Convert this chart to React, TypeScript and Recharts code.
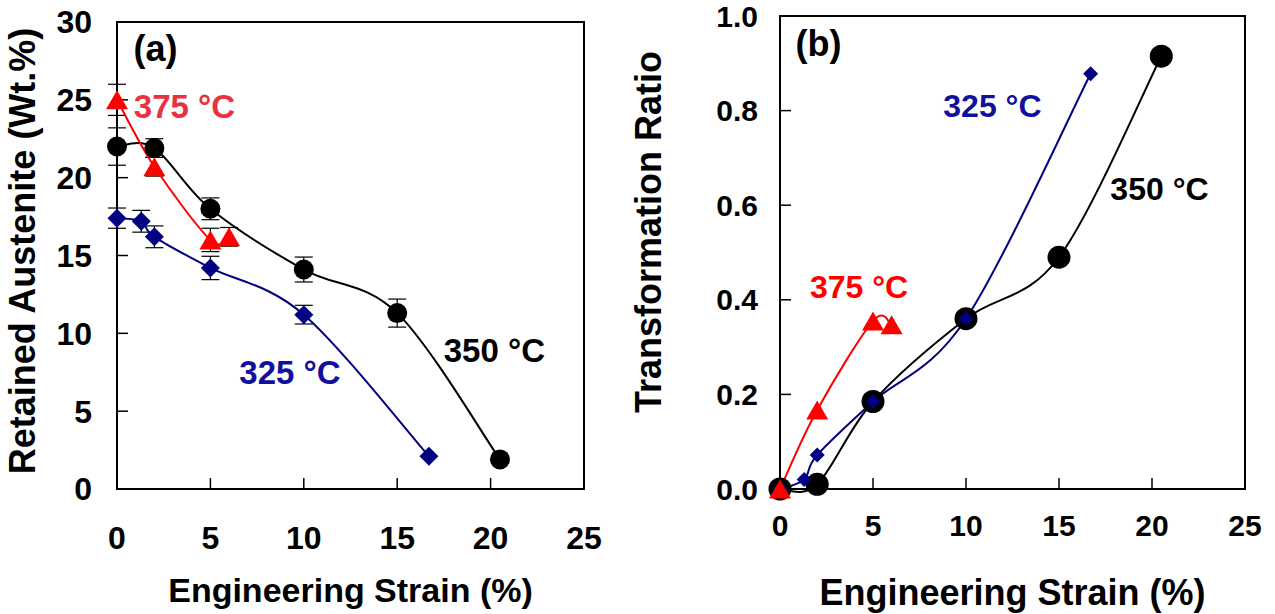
import React from 'react';
import { LineChart, Line, XAxis, YAxis, ErrorBar, ReferenceArea, ReferenceDot } from 'recharts';

// strain (%) for each temperature
const strain325 = [0, 1.3, 2, 5, 10, 16.7];
const strain350 = [0, 2, 5, 10, 15, 20.5];
const strain375 = [0, 2, 5, 6];

// (a) retained austenite, wt.%
const austenite325 = [17.4, 17.2, 16.2, 14.2, 11.2, 2.1];
const austenite350 = [22.0, 21.9, 18.0, 14.1, 11.3, 1.9];
const austenite375 = [25.0, 20.7, 16.0, 16.2];
const error325 = [0.65, 0.7, 0.7, 0.75, 0.6, 0];
const error350 = [1.2, 0.6, 0.7, 0.8, 0.9, 0];
const error375 = [1.0, 0.6, 0.75, 0.6];

// (b) transformation ratio
const ratio325 = [0, 0.02, 0.072, 0.185, 0.36, 0.878];
const ratio350 = [0, 0.01, 0.185, 0.36, 0.49, 0.915];
const ratio375 = [0, 0.167, 0.355, 0.347];

const strainTicks = [0, 5, 10, 15, 20, 25];
const austeniteTicks = [0, 5, 10, 15, 20, 25, 30];
const ratioTicks = [0, 0.2, 0.4, 0.6, 0.8, 1.0];

const FONT = '"Liberation Sans", Arial, sans-serif';
const RED = '#ff0000';
const NAVY = '#000080';

const rows = (xs: number[], ys: number[], errs?: number[]) =>
  xs.map((x, i) => ({ x, y: ys[i], err: errs ? errs[i] : 0 }));

// Excel-like smoothed line (Catmull-Rom through the points)
const smooth = (context: any) => {
  let pts: number[][] = [];
  return {
    areaStart() {},
    areaEnd() {},
    lineStart() {
      pts = [];
    },
    point(x: number, y: number) {
      pts.push([+x, +y]);
    },
    lineEnd() {
      const n = pts.length;
      if (!n) return;
      context.moveTo(pts[0][0], pts[0][1]);
      for (let i = 0; i < n - 1; i++) {
        const p0 = pts[Math.max(0, i - 1)];
        const p1 = pts[i];
        const p2 = pts[i + 1];
        const p3 = pts[Math.min(n - 1, i + 2)];
        context.bezierCurveTo(
          p1[0] + (p2[0] - p0[0]) / 6,
          p1[1] + (p2[1] - p0[1]) / 6,
          p2[0] - (p3[0] - p1[0]) / 6,
          p2[1] - (p3[1] - p1[1]) / 6,
          p2[0],
          p2[1]
        );
      }
    },
  };
};

const circleDot = (r: number) => (p: any) =>
  <circle key={`c${p.index}`} cx={p.cx} cy={p.cy} r={r} fill="#000" />;

const triangleDot = (w: number, h: number) => (p: any) => (
  <polygon
    key={`t${p.index}`}
    points={`${p.cx},${p.cy - h / 2} ${p.cx - w / 2},${p.cy + h / 2} ${p.cx + w / 2},${p.cy + h / 2}`}
    fill={RED}
  />
);

const diamondDot = (s: number) => (p: any) => (
  <polygon
    key={`d${p.index}`}
    points={`${p.cx},${p.cy - s / 2} ${p.cx + s / 2},${p.cy} ${p.cx},${p.cy + s / 2} ${p.cx - s / 2},${p.cy}`}
    fill={NAVY}
  />
);

const YTitle = ({ tx, ty, text }: any) => (
  <text
    x={tx}
    y={ty}
    transform={`rotate(-90 ${tx} ${ty})`}
    textAnchor="middle"
    fill="#000"
    fontSize={36}
    fontWeight="bold"
    fontFamily={FONT}
  >
    {text}
  </text>
);

const note = (value: string, fill: string, fontSize: number) => ({
  value,
  position: 'center' as const,
  fill,
  fontSize,
  fontWeight: 'bold',
  fontFamily: FONT,
});

const axisLine = { stroke: '#000', strokeWidth: 2 };
const tickLine = { stroke: '#000', strokeWidth: 1.5 };
const tickA = { fill: '#000', fontSize: 32, fontWeight: 'bold', fontFamily: FONT };
const tickB = { fill: '#000', fontSize: 30, fontWeight: 'bold', fontFamily: FONT };

const PanelA = () => (
  <LineChart width={620} height={614} margin={{ top: 22, right: 36, bottom: 0, left: 0 }}>
    <XAxis
      type="number"
      dataKey="x"
      domain={[0, 25]}
      ticks={strainTicks}
      interval={0}
      height={125}
      tickSize={-11}
      tickMargin={48}
      axisLine={axisLine}
      tickLine={tickLine}
      tick={tickA}
      label={{ value: 'Engineering Strain (%)', position: 'insideBottom', offset: 12, fill: '#000', fontSize: 34, fontWeight: 'bold', fontFamily: FONT }}
    />
    <YAxis
      type="number"
      domain={[0, 30]}
      ticks={austeniteTicks}
      interval={0}
      width={117}
      tickSize={-11}
      tickMargin={36}
      axisLine={axisLine}
      tickLine={tickLine}
      tick={tickA}
      label={<YTitle tx={35} ty={251} text="Retained Austenite (Wt.%)" />}
    />
    <ReferenceArea x1={0} x2={25} y1={0} y2={30} fill="none" stroke="#000" strokeWidth={2} />
    <Line data={rows(strain350, austenite350, error350)} dataKey="y" type={smooth as any} stroke="#000" strokeWidth={2} dot={circleDot(10)} activeDot={false} isAnimationActive={false}>
      <ErrorBar dataKey="err" direction="y" width={9} stroke="#000" strokeWidth={1.2} />
    </Line>
    <Line data={rows(strain375, austenite375, error375)} dataKey="y" type={smooth as any} stroke={RED} strokeWidth={2} dot={triangleDot(22, 19)} activeDot={false} isAnimationActive={false}>
      <ErrorBar dataKey="err" direction="y" width={9} stroke="#000" strokeWidth={1.2} />
    </Line>
    <Line data={rows(strain325, austenite325, error325)} dataKey="y" type={smooth as any} stroke={NAVY} strokeWidth={2} dot={diamondDot(19)} activeDot={false} isAnimationActive={false}>
      <ErrorBar dataKey="err" direction="y" width={9} stroke="#000" strokeWidth={1.2} />
    </Line>
    <ReferenceDot x={2.06} y={28.3} r={0} stroke="none" fill="none" label={note('(a)', '#000', 36)} />
    <ReferenceDot x={3.61} y={24.6} r={0} stroke="none" fill="none" label={note('375 °C', '#e8333f', 33)} />
    <ReferenceDot x={20.2} y={8.9} r={0} stroke="none" fill="none" label={note('350 °C', '#000', 33)} />
    <ReferenceDot x={9.26} y={7.5} r={0} stroke="none" fill="none" label={note('325 °C', '#10109e', 33)} />
  </LineChart>
);

const PanelB = () => (
  <LineChart width={675} height={614} margin={{ top: 16, right: 30, bottom: 0, left: 0 }}>
    <XAxis
      type="number"
      dataKey="x"
      domain={[0, 25]}
      ticks={strainTicks}
      interval={0}
      height={125}
      tickSize={-11}
      tickMargin={37}
      axisLine={axisLine}
      tickLine={tickLine}
      tick={tickB}
      label={{ value: 'Engineering Strain (%)', position: 'insideBottom', offset: 9, fill: '#000', fontSize: 36, fontWeight: 'bold', fontFamily: FONT }}
    />
    <YAxis
      type="number"
      domain={[0, 1]}
      ticks={ratioTicks}
      interval={0}
      width={180}
      tickSize={-11}
      tickMargin={33}
      tickFormatter={(v: number) => v.toFixed(1)}
      axisLine={axisLine}
      tickLine={tickLine}
      tick={tickB}
      label={<YTitle tx={61} ty={232} text="Transformation Ratio" />}
    />
    <ReferenceArea x1={0} x2={25} y1={0} y2={1} fill="none" stroke="#000" strokeWidth={2} />
    <Line data={rows(strain350, ratio350)} dataKey="y" type={smooth as any} stroke="#000" strokeWidth={2} dot={circleDot(11.5)} activeDot={false} isAnimationActive={false} />
    <Line data={rows(strain325, ratio325)} dataKey="y" type={smooth as any} stroke={NAVY} strokeWidth={2} dot={diamondDot(15)} activeDot={false} isAnimationActive={false} />
    <Line data={rows(strain375, ratio375)} dataKey="y" type={smooth as any} stroke={RED} strokeWidth={2} dot={triangleDot(22, 19)} activeDot={false} isAnimationActive={false} />
    <ReferenceDot x={2.07} y={0.943} r={0} stroke="none" fill="none" label={note('(b)', '#000', 36)} />
    <ReferenceDot x={11.42} y={0.811} r={0} stroke="none" fill="none" label={note('325 °C', '#10109e', 32)} />
    <ReferenceDot x={20.4} y={0.636} r={0} stroke="none" fill="none" label={note('350 °C', '#000', 32)} />
    <ReferenceDot x={4.25} y={0.4285} r={0} stroke="none" fill="none" label={note('375 °C', RED, 32)} />
  </LineChart>
);

export default function App() {
  return (
    <div style={{ position: 'absolute', left: 0, top: 0, width: 1275, height: 614, background: '#fff', overflow: 'hidden' }}>
      <div style={{ position: 'absolute', left: 0, top: 0 }}>
        <PanelA />
      </div>
      <div style={{ position: 'absolute', left: 600, top: 0 }}>
        <PanelB />
      </div>
    </div>
  );
}
